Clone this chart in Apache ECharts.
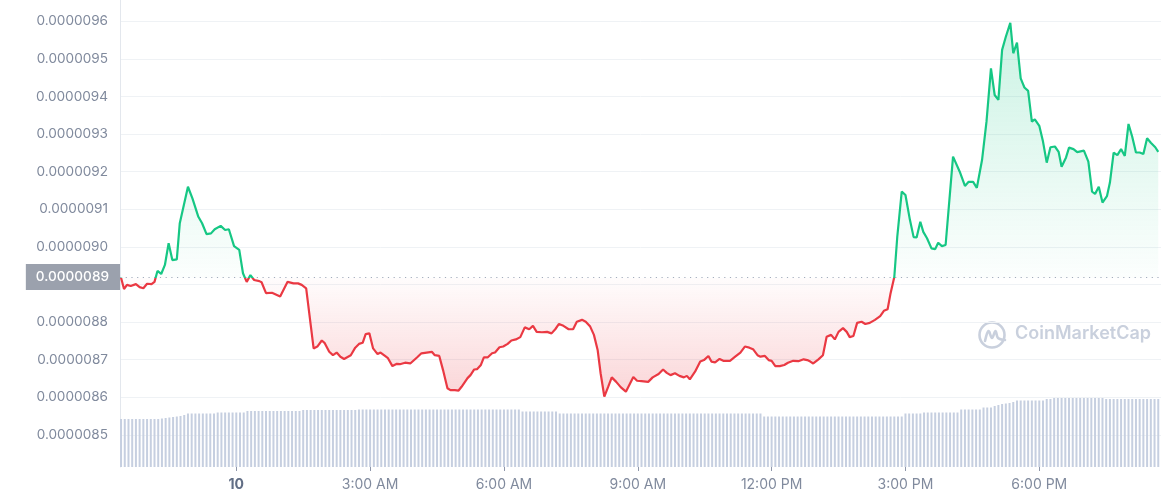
<!DOCTYPE html>
<html>
<head>
<meta charset="utf-8">
<script src="https://cdn.jsdelivr.net/npm/echarts@6/dist/echarts.min.js"></script>
<style>
html,body{margin:0;padding:0;background:#fff;}
#chart{width:1161px;height:500px;}
</style>
</head>
<body>
<div id="chart"></div>
<script>
// ---- DATA ----
// price vertices: minutes relative to 00:00 on the 10th, price in millionths of USD
const priceMinutes = [
-155,-151,-147,-142,-135,-130,-125,-120,-114,-110,-106,-101,-96,-91,-86,-80,-76,-65,-59,-51,
-46,-40,-34,-29,-21,-15,-10,-3,4,9,14,19,24,31,34,40,48,59,69,77,
83,88,94,104,109,115,119,125,130,135,140,145,154,160,165,170,174,179,184,190,
194,200,204,210,216,220,227,234,243,249,256,263,267,273,278,284,288,294,299,303,
311,315,320,324,329,333,338,344,348,354,359,365,370,376,382,388,394,399,404,411,
418,424,429,434,440,447,453,458,465,470,476,481,486,490,495,500,505,511,517,524,
534,539,545,554,560,568,574,579,584,590,596,602,606,610,617,624,629,635,639,644,
650,655,664,671,678,684,690,695,701,705,711,716,720,725,731,737,742,749,756,763,
768,772,776,783,789,794,800,805,810,816,821,825,830,835,841,846,852,859,866,871,
876,880,885,889,895,900,906,911,915,920,924,929,935,940,944,949,954,964,973,980,
985,991,996,1003,1009,1015,1020,1025,1030,1035,1041,1045,1050,1055,1060,1065,1070,1074,1080,1085,
1090,1095,1101,1106,1110,1116,1120,1126,1131,1140,1146,1151,1155,1160,1165,1171,1175,1180,1185,1190,
1195,1200,1205,1210,1215,1220,1225,1230,1236,1240
];
const priceMicro = [
8.918,8.888,8.899,8.896,8.901,8.893,8.890,8.902,8.901,8.907,8.936,8.928,8.952,9.010,8.965,8.967,9.063,9.160,9.129,9.080,
9.063,9.034,9.036,9.047,9.056,9.045,9.047,9.002,8.992,8.930,8.907,8.925,8.912,8.909,8.906,8.877,8.878,8.868,8.907,8.903,
8.903,8.899,8.890,8.730,8.735,8.751,8.744,8.721,8.712,8.719,8.708,8.702,8.712,8.732,8.742,8.745,8.768,8.770,8.730,8.715,
8.719,8.710,8.704,8.683,8.689,8.688,8.692,8.690,8.706,8.717,8.719,8.721,8.712,8.710,8.673,8.624,8.619,8.619,8.618,8.628,
8.651,8.659,8.674,8.675,8.686,8.706,8.706,8.717,8.719,8.733,8.735,8.742,8.751,8.754,8.760,8.786,8.781,8.790,8.774,8.773,
8.774,8.770,8.781,8.795,8.790,8.781,8.781,8.801,8.806,8.801,8.788,8.766,8.726,8.664,8.602,8.627,8.653,8.641,8.627,8.615,
8.654,8.644,8.643,8.641,8.653,8.662,8.674,8.665,8.659,8.664,8.657,8.653,8.657,8.648,8.668,8.695,8.699,8.710,8.695,8.693,
8.702,8.697,8.697,8.708,8.719,8.735,8.732,8.728,8.712,8.708,8.710,8.699,8.697,8.683,8.683,8.686,8.692,8.697,8.696,8.701,
8.699,8.695,8.690,8.701,8.712,8.761,8.766,8.754,8.774,8.784,8.774,8.760,8.763,8.798,8.801,8.795,8.798,8.806,8.816,8.830,
8.834,8.877,8.920,9.027,9.147,9.138,9.072,9.026,9.025,9.067,9.040,9.023,8.996,8.994,9.011,9.002,9.005,9.240,9.200,9.162,
9.173,9.173,9.157,9.231,9.333,9.475,9.404,9.391,9.524,9.559,9.596,9.515,9.543,9.448,9.424,9.415,9.333,9.339,9.322,9.280,
9.224,9.265,9.267,9.253,9.213,9.238,9.264,9.260,9.252,9.256,9.227,9.147,9.141,9.160,9.118,9.135,9.171,9.251,9.244,9.260,
9.242,9.327,9.293,9.251,9.251,9.247,9.289,9.277,9.265,9.253
];
const baselinePrice = 8.918;      // opening price (dotted reference line)
const baselineLabel = '0.0000089';

// volume, one bar per 5 minutes starting at 21:25 on the 9th (relative units)
const volumeStartMinute = -155;
const volumeStepMinutes = 5;
const volume = [
48,48,48,48,48,48,48,48,48,48,48,
48.5,49,49.5,50,50.5,51,52,
53.5,53.5,53.5,53.5,53.5,53.5,53.5,53.5,
54.5,54.5,54.5,54.5,54.5,54.5,54.5,54.5,
56,56,56,56,56,56,56,56,56,56,56,56,56,56,56,
57,57,57,57,57,57,57,57,57,57,57,57,57,57,57,
57.5,57.5,57.5,57.5,57.5,57.5,57.5,57.5,57.5,57.5,57.5,57.5,57.5,57.5,57.5,57.5,57.5,57.5,57.5,57.5,57.5,57.5,
57.5,57.5,57.5,57.5,57.5,57.5,57.5,57.5,57.5,57.5,57.5,57.5,57.5,57.5,57.5,57.5,57.5,57.5,57.5,57.5,57.5,57.5,
55.5,55.5,55.5,55.5,55.5,55.5,55.5,55.5,55.5,55.5,
53.5,53.5,53.5,53.5,53.5,53.5,53.5,53.5,53.5,53.5,53.5,53.5,53.5,53.5,53.5,53.5,53.5,53.5,53.5,53.5,
53.5,53.5,53.5,53.5,53.5,53.5,53.5,53.5,53.5,53.5,53.5,53.5,53.5,53.5,53.5,53.5,53.5,53.5,53.5,53.5,
53.5,53.5,53.5,53.5,53.5,53.5,53.5,53.5,53.5,53.5,53.5,53.5,53.5,53.5,53.5,
50.5,50.5,50.5,50.5,50.5,50.5,50.5,50.5,50.5,50.5,50.5,50.5,50.5,50.5,50.5,50.5,50.5,50.5,50.5,
50.5,50.5,50.5,50.5,50.5,50.5,50.5,50.5,50.5,50.5,50.5,50.5,50.5,50.5,50.5,50.5,50.5,50.5,50.5,
53.5,53.5,53.5,53.5,53.5,
54.5,54.5,54.5,54.5,54.5,54.5,54.5,54.5,54.5,54.5,
57.5,57.5,57.5,57.5,57.5,57.5,
59.5,59.5,59.5,
61,62,63,63.5,64,65,
66.5,66.5,66.5,66.5,66.5,66.5,66.5,66.5,
68,68,
69,69,69,69,69,69,69,69,69,69,69,69,69,69,
68,68,68,68,68,68,68,68,68,68,68,68,68,68,68
];

// x-axis tick labels
const tickMinutes = [0, 180, 360, 540, 720, 900, 1080];
const tickLabels = ['10', '3:00 AM', '6:00 AM', '9:00 AM', '12:00 PM', '3:00 PM', '6:00 PM'];

// y-axis ticks (millionths of USD)
const yMin = 8.4, yMax = 9.6, yStep = 0.1;
const xMin = -156.4, xMax = 1243.7;

// ---- BUILD ----
const priceData = priceMinutes.map((m, i) => [m, priceMicro[i]]);
const volumeData = volume.map((v, i) => [volumeStartMinute + i * volumeStepMinutes, v]);

const FONT = 'Inter';
const GREEN = '#16c784', RED = '#ea3943';

const chart = echarts.init(document.getElementById('chart'), null, {renderer: 'canvas'});

const option = {
  animation: false,
  textStyle: {fontFamily: FONT},
  grid: [
    {left: 120, right: 0, top: 21.3, height: 451.2},
    {left: 120, right: 0, top: 0, bottom: 33}
  ],
  xAxis: [
    {type: 'value', gridIndex: 0, min: xMin, max: xMax, show: false},
    {
      type: 'value', gridIndex: 1, min: xMin, max: xMax,
      axisLine: {show: false},
      splitLine: {show: false},
      axisTick: {show: true, customValues: tickMinutes, length: 4, lineStyle: {color: '#8f97aa', width: 1}},
      axisLabel: {
        customValues: tickMinutes,
        margin: 11,
        fontSize: 14,
        color: '#808a9d',
        fontFamily: FONT,
        formatter: function (v) {
          const i = tickMinutes.indexOf(Math.round(v));
          if (i < 0) return '';
          return i === 0 ? '{d|' + tickLabels[i] + '}' : tickLabels[i];
        },
        rich: {d: {fontSize: 14, fontWeight: 700, color: '#616e85', fontFamily: FONT}}
      }
    }
  ],
  yAxis: [
    {
      type: 'value', gridIndex: 0, min: yMin, max: yMax, interval: yStep,
      axisLine: {show: false}, axisTick: {show: false},
      splitLine: {show: true, showMinLine: false, lineStyle: {color: '#eff2f5', width: 1}},
      axisLabel: {
        margin: 12, fontSize: 13.6, color: '#808a9d', fontFamily: FONT,
        formatter: function (v) {
          const r = Math.round(v * 10) / 10;
          if (r <= 8.4 || Math.abs(r - 8.9) < 1e-9) return '';
          return (r / 1e6).toFixed(7);
        }
      }
    },
    {
      type: 'value', gridIndex: 1, min: 0, max: 467,
      axisLine: {show: true, onZero: false, lineStyle: {color: '#e3e7ed', width: 1}},
      axisTick: {show: false}, axisLabel: {show: false}, splitLine: {show: false}
    }
  ],
  visualMap: {
    show: false, type: 'piecewise', seriesIndex: 0, dimension: 1,
    pieces: [
      {gt: baselinePrice, lte: 100, color: GREEN},
      {gt: 0, lte: baselinePrice, color: RED}
    ]
  },
  series: [
    {
      id: 'price', type: 'line', xAxisIndex: 0, yAxisIndex: 0,
      data: priceData, showSymbol: false, symbol: 'none', z: 5,
      lineStyle: {width: 2.2},
      areaStyle: {origin: baselinePrice, color: 'rgba(0,0,0,0)'},
      markLine: {
        silent: true, symbol: ['none', 'none'], animation: false,
        data: [{yAxis: baselinePrice}],
        lineStyle: {color: '#a4acbd', type: [1.2, 4.5], width: 1},
        label: {
          show: true, position: 'start', distance: 0,
          formatter: baselineLabel, color: '#ffffff', fontSize: 13.6, fontWeight: 500,
          fontFamily: FONT, lineHeight: 15, backgroundColor: '#9ba1ad', padding: [6, 11, 5, 10]
        },
        emphasis: {disabled: true}
      }
    },
    {
      type: 'bar', xAxisIndex: 1, yAxisIndex: 1, data: volumeData,
      barWidth: 2, itemStyle: {color: '#c6cfe0'}, z: 1, silent: true
    }
  ],
  graphic: [
    {
      type: 'group', left: 977, top: 320, silent: true, z: 0,
      children: [
        {type: 'circle', shape: {cx: 14, cy: 15, r: 12.5}, style: {fill: 'none', stroke: '#c9d0dd', lineWidth: 2.6}},
        {type: 'polyline', shape: {points: [[7, 21], [10.5, 11], [14, 18], [17.5, 11], [20, 18], [27, 20]], smooth: 0.35},
         style: {fill: 'none', stroke: '#c9d0dd', lineWidth: 2.6, lineCap: 'round', lineJoin: 'round'}}
      ]
    },
    {
      type: 'text', left: 1015, top: 325, silent: true, z: 0,
      style: {text: 'CoinMarketCap', fill: '#c9d0dd', font: '600 18px Inter'}
    }
  ]
};

chart.setOption(option);

// gradient fill: green above the opening price, red below, fading toward it
const maxP = Math.max.apply(null, priceMicro);
const minP = Math.min.apply(null, priceMicro);
const pTop = chart.convertToPixel({xAxisIndex: 0, yAxisIndex: 0}, [0, maxP])[1];
const pBot = chart.convertToPixel({xAxisIndex: 0, yAxisIndex: 0}, [0, minP])[1];
const pBase = chart.convertToPixel({xAxisIndex: 0, yAxisIndex: 0}, [0, baselinePrice])[1];
const f = (pBase - pTop) / (pBot - pTop);
chart.setOption({
  series: [{
    id: 'price',
    areaStyle: {
      origin: baselinePrice,
      color: new echarts.graphic.LinearGradient(0, pTop, 0, pBot, [
        {offset: 0, color: 'rgba(22,199,132,0.32)'},
        {offset: f, color: 'rgba(22,199,132,0.02)'},
        {offset: f, color: 'rgba(234,57,67,0.02)'},
        {offset: 1, color: 'rgba(234,57,67,0.30)'}
      ], true)
    }
  }]
});
</script>
</body>
</html>
